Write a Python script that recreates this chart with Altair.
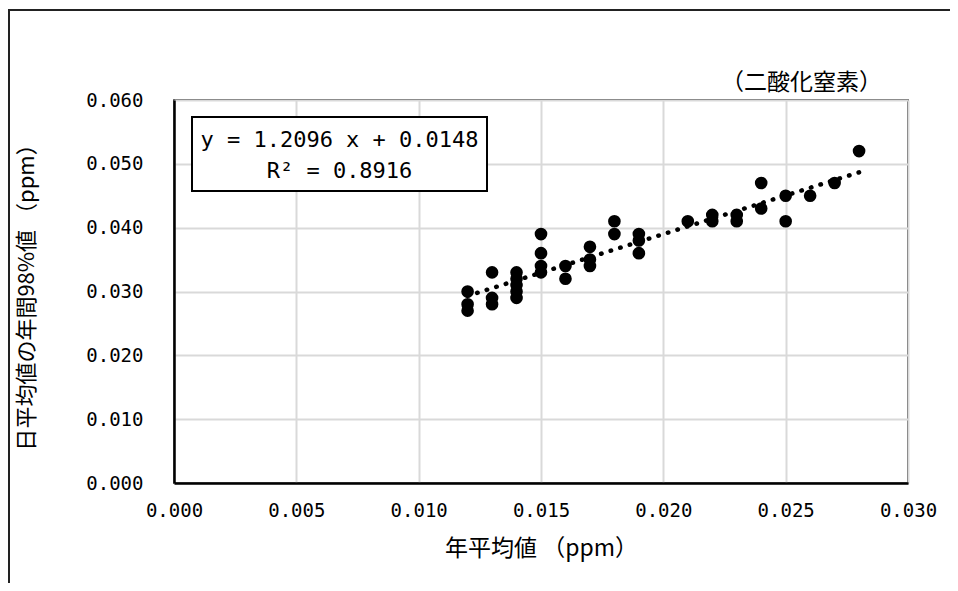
import altair as alt
import pandas as pd

# ---- data ----
x_vals = [0.012, 0.012, 0.012,
          0.013, 0.013, 0.013,
          0.014, 0.014, 0.014, 0.014, 0.014,
          0.015, 0.015, 0.015, 0.015,
          0.016, 0.016,
          0.017, 0.017, 0.017,
          0.018, 0.018,
          0.019, 0.019, 0.019,
          0.021,
          0.022, 0.022,
          0.023, 0.023,
          0.024, 0.024,
          0.025, 0.025,
          0.026,
          0.027,
          0.028]
y_vals = [0.030, 0.028, 0.027,
          0.033, 0.029, 0.028,
          0.033, 0.032, 0.031, 0.030, 0.029,
          0.039, 0.036, 0.034, 0.033,
          0.034, 0.032,
          0.037, 0.035, 0.034,
          0.041, 0.039,
          0.039, 0.038, 0.036,
          0.041,
          0.042, 0.041,
          0.042, 0.041,
          0.047, 0.043,
          0.045, 0.041,
          0.045,
          0.047,
          0.052]
slope = 1.2096
intercept = 0.0148
r2 = 0.8916

x_ticks = [0.000, 0.005, 0.010, 0.015, 0.020, 0.025, 0.030]
y_ticks = [0.000, 0.010, 0.020, 0.030, 0.040, 0.050, 0.060]

x_title = "年平均値 （ppm）"
y_title = "日平均値の年間98%値 （ppm）"
subtitle = "（二酸化窒素）"
eq_text = f"y = {slope:.4f} x + {intercept:.4f}"
r2_text = f"R² = {r2:.4f}"

pts = pd.DataFrame({"x": x_vals, "y": y_vals})
tx = [min(x_vals), max(x_vals)]
trend = pd.DataFrame({"x": tx, "y": [slope * v + intercept for v in tx]})
one = pd.DataFrame({"k": [0]})

W, H = 734, 383
NUMFONT = "DejaVu Sans Mono"
JPFONT = "Noto Sans CJK JP"

xscale = alt.Scale(domain=[0, 0.03], nice=False, zero=False)
yscale = alt.Scale(domain=[0, 0.06], nice=False, zero=False)

xaxis = alt.Axis(values=x_ticks, format=".3f", title=x_title, grid=True,
                 ticks=False, labelPadding=18, labelFlush=False, labelOverlap=False,
                 titleY=65, titleX=W / 2,
                 titleBaseline="middle", titleAlign="center")
yaxis = alt.Axis(values=y_ticks, format=".3f", title=y_title, grid=True,
                 ticks=False, labelPadding=31, labelFlush=False, labelOverlap=False,
                 titleX=-148, titleY=H / 2, titleFontSize=22,
                 titleBaseline="middle", titleAlign="center", titleAngle=270)

points = alt.Chart(pts).mark_circle(size=160, color="black", opacity=1).encode(
    x=alt.X("x:Q", scale=xscale, axis=xaxis),
    y=alt.Y("y:Q", scale=yscale, axis=yaxis),
)

line = alt.Chart(trend).mark_line(color="black", strokeWidth=4.5,
                                  strokeCap="round", strokeDash=[0.5, 9.5]).encode(
    x=alt.X("x:Q", scale=xscale),
    y=alt.Y("y:Q", scale=yscale),
)

box = alt.Chart(one).mark_rect(fill="white", stroke="black", strokeWidth=2).encode(
    x=alt.value(18), x2=alt.value(313), y=alt.value(17), y2=alt.value(91)
)
eq = alt.Chart(one).mark_text(font=NUMFONT, fontSize=22, color="black",
                              align="center", baseline="middle").encode(
    x=alt.value(165.5), y=alt.value(40), text=alt.value(eq_text)
)
r2t = alt.Chart(one).mark_text(font=NUMFONT, fontSize=22, color="black",
                               align="center", baseline="middle").encode(
    x=alt.value(165.5), y=alt.value(71), text=alt.value(r2_text)
)
sub = alt.Chart(one).mark_text(font=JPFONT, fontSize=23, color="black",
                               align="right", baseline="middle").encode(
    x=alt.value(708), y=alt.value(-17), text=alt.value(subtitle)
)
frame_top = alt.Chart(one).mark_rule(color="#222222", strokeWidth=2).encode(
    x=alt.value(-166), x2=alt.value(780), y=alt.value(-90)
)
frame_left = alt.Chart(one).mark_rule(color="#222222", strokeWidth=2).encode(
    x=alt.value(-165), y=alt.value(-90), y2=alt.value(500)
)

chart = alt.layer(frame_top, frame_left, points, line, box, eq, r2t, sub).properties(
    width=W, height=H,
    autosize=alt.AutoSizeParams(type="none"),
    padding={"left": 166, "top": 92, "right": 42, "bottom": 100},
    background="white",
).configure_view(
    stroke="black", strokeWidth=1.5
).configure_axis(
    labelFont=NUMFONT, labelFontSize=19, labelColor="black",
    titleFont=JPFONT, titleFontSize=23, titleFontWeight="normal", titleColor="black",
    gridColor="#d9d9d9", gridWidth=2, domainColor="black", domainWidth=2.5,
)

chart.save("out.html", embed_options={"renderer": "svg", "actions": False})
